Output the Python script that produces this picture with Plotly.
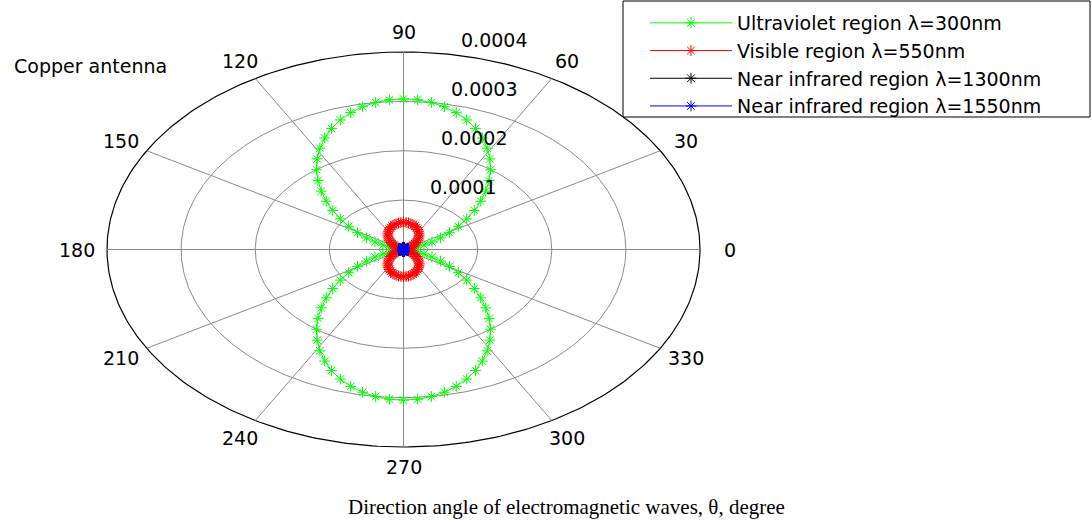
import numpy as np
import plotly.graph_objects as go

# ---------------- data (radius values in units of 1e-4) ----------------
R_UNIT = 1e-4
theta_step_deg = 3.6  # sampling of the direction angle (101 samples 0..360)
theta_deg = [round(i * theta_step_deg, 1) for i in range(101)]

green_r = [0, 0.012, 0.048, 0.107, 0.188, 0.291, 0.413, 0.553, 0.708, 0.876, 1.054, 1.239, 1.429,
           1.621, 1.811, 1.996, 2.174, 2.342, 2.497, 2.637, 2.759, 2.862, 2.943, 3.002, 3.038, 3.05,
           3.038, 3.002, 2.943, 2.862, 2.759, 2.637, 2.497, 2.342, 2.174, 1.996, 1.811, 1.621, 1.429,
           1.239, 1.054, 0.876, 0.708, 0.553, 0.413, 0.291, 0.188, 0.107, 0.048, 0.012, 0,
           0.012, 0.048, 0.107, 0.188, 0.291, 0.413, 0.553, 0.708, 0.876, 1.054, 1.239, 1.429,
           1.621, 1.811, 1.996, 2.174, 2.342, 2.497, 2.637, 2.759, 2.862, 2.943, 3.002, 3.038, 3.05,
           3.038, 3.002, 2.943, 2.862, 2.759, 2.637, 2.497, 2.342, 2.174, 1.996, 1.811, 1.621, 1.429,
           1.239, 1.054, 0.876, 0.708, 0.553, 0.413, 0.291, 0.188, 0.107, 0.048, 0.012, 0]

red_r = [0, 0.002, 0.009, 0.019, 0.034, 0.053, 0.075, 0.100, 0.128, 0.158, 0.190, 0.223, 0.258,
         0.292, 0.327, 0.360, 0.392, 0.422, 0.450, 0.475, 0.497, 0.516, 0.531, 0.541, 0.548, 0.55,
         0.548, 0.541, 0.531, 0.516, 0.497, 0.475, 0.450, 0.422, 0.392, 0.360, 0.327, 0.292, 0.258,
         0.223, 0.190, 0.158, 0.128, 0.100, 0.075, 0.053, 0.034, 0.019, 0.009, 0.002, 0,
         0.002, 0.009, 0.019, 0.034, 0.053, 0.075, 0.100, 0.128, 0.158, 0.190, 0.223, 0.258,
         0.292, 0.327, 0.360, 0.392, 0.422, 0.450, 0.475, 0.497, 0.516, 0.531, 0.541, 0.548, 0.55,
         0.548, 0.541, 0.531, 0.516, 0.497, 0.475, 0.450, 0.422, 0.392, 0.360, 0.327, 0.292, 0.258,
         0.223, 0.190, 0.158, 0.128, 0.100, 0.075, 0.053, 0.034, 0.019, 0.009, 0.002, 0]

black_r = [0, 0.0002, 0.0006, 0.0014, 0.0025, 0.0038, 0.0054, 0.0073, 0.0093, 0.0115, 0.0138, 0.0163, 0.0187,
           0.0213, 0.0237, 0.0262, 0.0285, 0.0307, 0.0327, 0.0346, 0.0362, 0.0375, 0.0386, 0.0394, 0.0398, 0.04,
           0.0398, 0.0394, 0.0386, 0.0375, 0.0362, 0.0346, 0.0327, 0.0307, 0.0285, 0.0262, 0.0237, 0.0213, 0.0187,
           0.0163, 0.0138, 0.0115, 0.0093, 0.0073, 0.0054, 0.0038, 0.0025, 0.0014, 0.0006, 0.0002, 0,
           0.0002, 0.0006, 0.0014, 0.0025, 0.0038, 0.0054, 0.0073, 0.0093, 0.0115, 0.0138, 0.0163, 0.0187,
           0.0213, 0.0237, 0.0262, 0.0285, 0.0307, 0.0327, 0.0346, 0.0362, 0.0375, 0.0386, 0.0394, 0.0398, 0.04,
           0.0398, 0.0394, 0.0386, 0.0375, 0.0362, 0.0346, 0.0327, 0.0307, 0.0285, 0.0262, 0.0237, 0.0213, 0.0187,
           0.0163, 0.0138, 0.0115, 0.0093, 0.0073, 0.0054, 0.0038, 0.0025, 0.0014, 0.0006, 0.0002, 0]

blue_r = [0, 0.0001, 0.0005, 0.0011, 0.0019, 0.0029, 0.0041, 0.0054, 0.0070, 0.0086, 0.0104, 0.0122, 0.0141,
          0.0159, 0.0178, 0.0196, 0.0214, 0.0230, 0.0246, 0.0259, 0.0271, 0.0281, 0.0289, 0.0295, 0.0299, 0.03,
          0.0299, 0.0295, 0.0289, 0.0281, 0.0271, 0.0259, 0.0246, 0.0230, 0.0214, 0.0196, 0.0178, 0.0159, 0.0141,
          0.0122, 0.0104, 0.0086, 0.0070, 0.0054, 0.0041, 0.0029, 0.0019, 0.0011, 0.0005, 0.0001, 0,
          0.0001, 0.0005, 0.0011, 0.0019, 0.0029, 0.0041, 0.0054, 0.0070, 0.0086, 0.0104, 0.0122, 0.0141,
          0.0159, 0.0178, 0.0196, 0.0214, 0.0230, 0.0246, 0.0259, 0.0271, 0.0281, 0.0289, 0.0295, 0.0299, 0.03,
          0.0299, 0.0295, 0.0289, 0.0281, 0.0271, 0.0259, 0.0246, 0.0230, 0.0214, 0.0196, 0.0178, 0.0159, 0.0141,
          0.0122, 0.0104, 0.0086, 0.0070, 0.0054, 0.0041, 0.0029, 0.0019, 0.0011, 0.0005, 0.0001, 0]

series_names = ["Ultraviolet region \u03bb=300nm", "Visible region \u03bb=550nm",
                "Near infrared region \u03bb=1300nm", "Near infrared region \u03bb=1550nm"]
series_colors = ["#00FF00", "#FF0000", "#000000", "#0000FF"]
series_values = [green_r, red_r, black_r, blue_r]

ring_values = [1, 2, 3, 4]              # x 1e-4
ring_labels = ["0.0001", "0.0002", "0.0003", "0.0004"]
angle_ticks = [0, 30, 60, 90, 120, 150, 180, 210, 240, 270, 300, 330]
angle_labels = [str(a) for a in angle_ticks]

title_text = "Copper antenna"
xlabel_text = "Direction angle of electromagnetic waves, \u03b8, degree"

# ---------------- figure ----------------
W, H = 1092, 522
FONT = "DejaVu Sans"
GRID = "#8a8a8a"
rmax = ring_values[-1]

fig = go.Figure()

t = np.linspace(0, 2 * np.pi, 361)
# rings
for rv in ring_values:
    fig.add_trace(go.Scatter(x=rv * np.cos(t), y=rv * np.sin(t), mode="lines",
                             line=dict(color="black" if rv == rmax else GRID, width=1.2 if rv == rmax else 1),
                             hoverinfo="skip", showlegend=False))
# spokes
for a in angle_ticks[:6]:
    ar = np.deg2rad(a)
    fig.add_trace(go.Scatter(x=[-rmax * np.cos(ar), rmax * np.cos(ar)],
                             y=[-rmax * np.sin(ar), rmax * np.sin(ar)], mode="lines",
                             line=dict(color=GRID, width=1), hoverinfo="skip", showlegend=False))

th = np.deg2rad(np.array(theta_deg))
for name, col, vals in zip(series_names, series_colors, series_values):
    r = np.array(vals)
    fig.add_trace(go.Scatter(x=r * np.cos(th), y=r * np.sin(th), mode="lines+markers", name=name,
                             line=dict(color=col, width=1),
                             marker=dict(symbol="asterisk-open", size=9, color=col,
                                         line=dict(color=col, width=1))))

annotations = []
for a, lab in zip(angle_ticks, angle_labels):
    ar = np.deg2rad(a)
    annotations.append(dict(x=1.1 * rmax * np.cos(ar), y=1.1 * rmax * np.sin(ar), text=lab,
                            showarrow=False, xanchor="center", yanchor="middle",
                            font=dict(family=FONT, size=19, color="black")))
c82, s82 = np.cos(np.deg2rad(82)), np.sin(np.deg2rad(82))
for rv, lab in zip(ring_values, ring_labels):
    rr = rv + 1 / 20
    annotations.append(dict(x=rr * c82, y=rr * s82, text=lab, showarrow=False,
                            xanchor="left", yanchor="bottom", xshift=14, yshift=-2,
                            font=dict(family=FONT, size=19, color="black")))
annotations.append(dict(x=12 / W, y=1 - 66 / H, xref="paper", yref="paper", text=title_text,
                        showarrow=False, xanchor="left", yanchor="middle",
                        font=dict(family=FONT, size=19, color="black")))
annotations.append(dict(x=566 / W, y=1 - 507 / H, xref="paper", yref="paper", text=xlabel_text,
                        showarrow=False, xanchor="center", yanchor="middle",
                        font=dict(family="Liberation Serif", size=21, color="black")))

# legend frame (decoration)
shapes = [dict(type="rect", xref="paper", yref="paper", x0=623 / W, x1=1090 / W,
               y0=1 - 117 / H, y1=1 - 1 / H, line=dict(color="black", width=1),
               fillcolor="white", layer="below")]

# pixel mapping: centre at (403.5, 249.5), x-radius 296.5 px, y-radius 197.5 px for rmax
cx, cy, rx, ry = 403.5, 249.5, 296.5, 197.5
fig.update_layout(
    width=W, height=H, margin=dict(l=0, r=0, t=0, b=0),
    plot_bgcolor="white", paper_bgcolor="white",
    xaxis=dict(range=[-cx / rx * rmax, (W - cx) / rx * rmax], visible=False, fixedrange=True),
    yaxis=dict(range=[-(H - cy) / ry * rmax, cy / ry * rmax], visible=False, fixedrange=True),
    annotations=annotations, shapes=shapes,
    legend=dict(x=645 / W, y=1 - 4 / H, xanchor="left", yanchor="top", bgcolor="rgba(0,0,0,0)",
                borderwidth=0, itemwidth=82,
                font=dict(family=FONT, size=19, color="black"), tracegroupgap=0),
    showlegend=True,
)

fig.write_html("out.html")
